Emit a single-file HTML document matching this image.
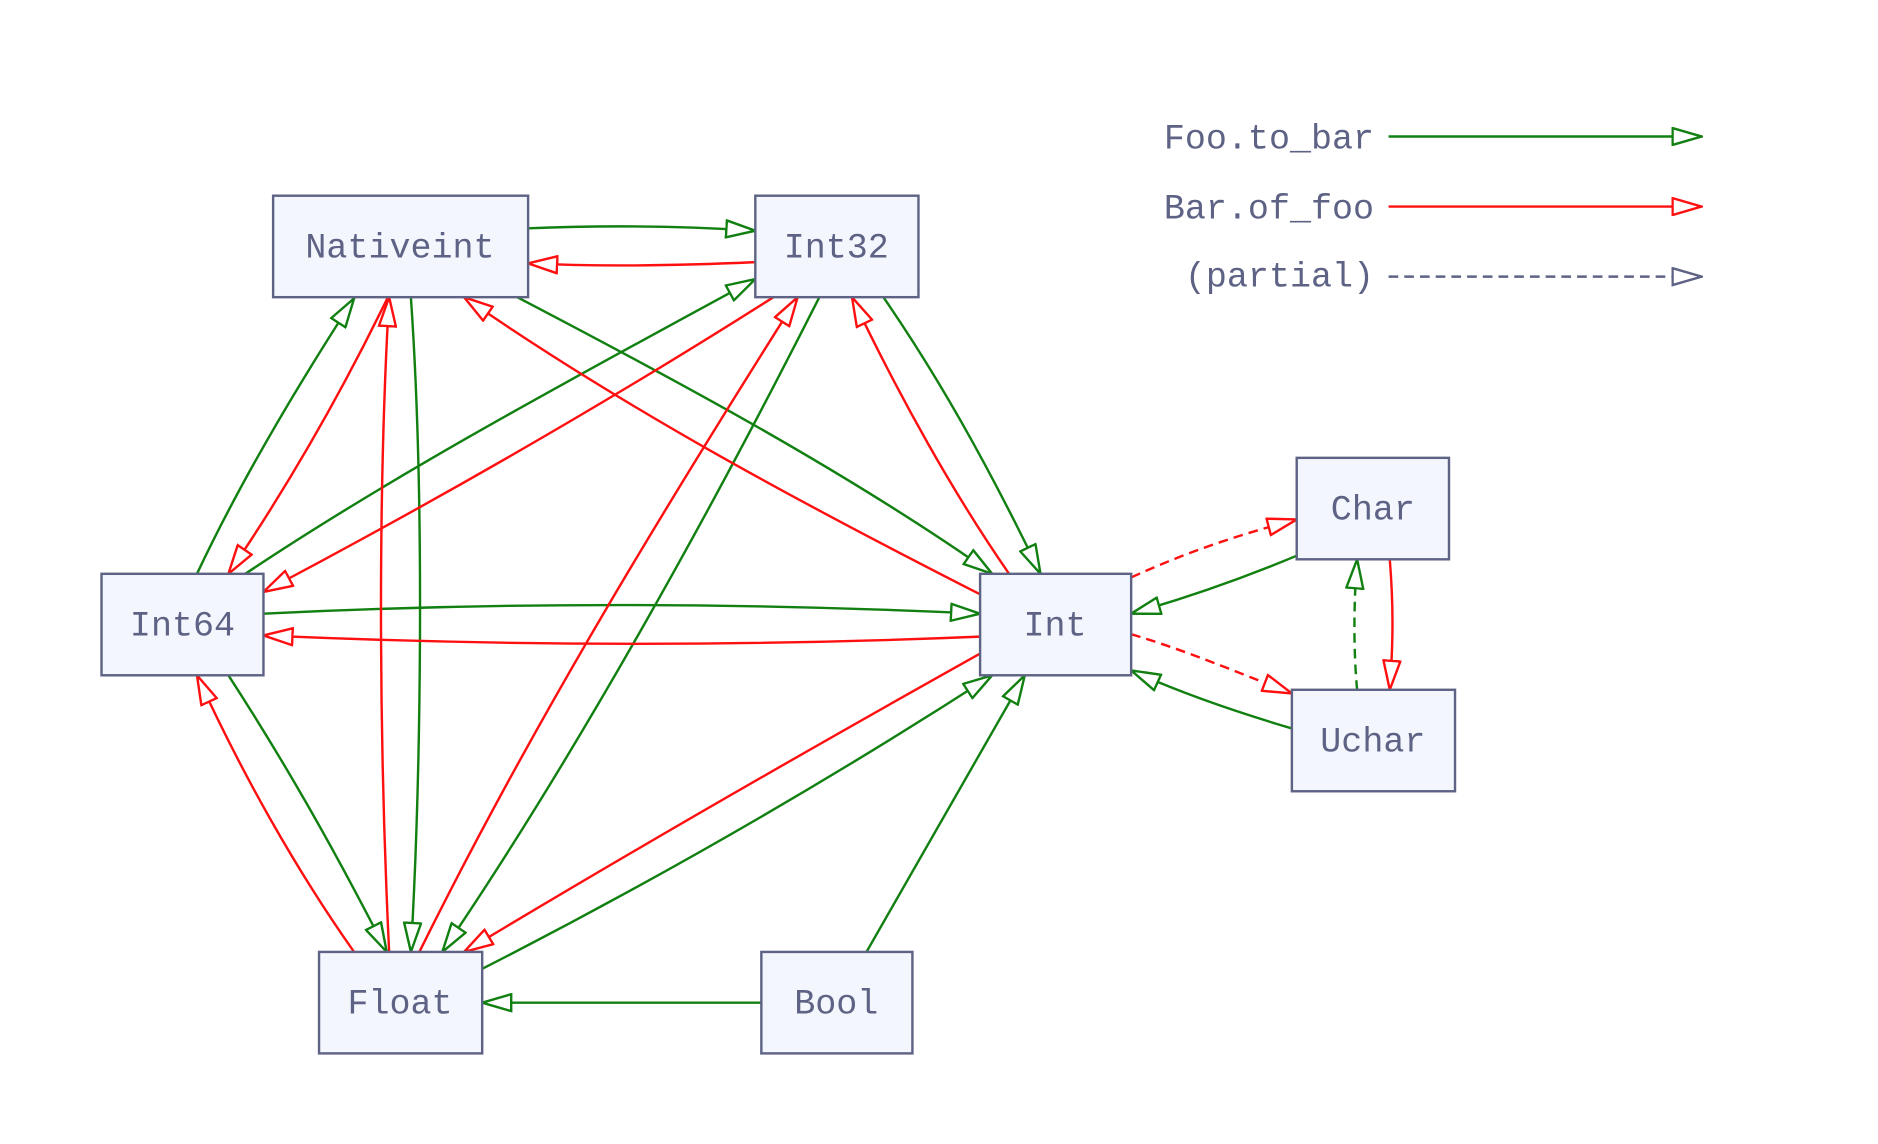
<!DOCTYPE html>
<html><head><meta charset="utf-8"><style>
html,body{margin:0;padding:0;background:#fff;}
svg{display:block;}
text{font-family:"Liberation Mono","DejaVu Sans Mono",monospace;font-size:29px;fill:#5e6385;}
</style></head><body>
<svg width="1878" height="1144" viewBox="0 0 1554 947" preserveAspectRatio="none" xmlns="http://www.w3.org/2000/svg">
<defs>
<marker id="g" markerUnits="userSpaceOnUse" viewBox="0 0 26 16" refX="25" refY="8" markerWidth="26" markerHeight="16" orient="auto"><path d="M1,1 L25,8 L1,15 z" fill="#fff" stroke="#118011" stroke-width="2"/></marker>
<marker id="r" markerUnits="userSpaceOnUse" viewBox="0 0 26 16" refX="25" refY="8" markerWidth="26" markerHeight="16" orient="auto"><path d="M1,1 L25,8 L1,15 z" fill="#fff" stroke="#ff1010" stroke-width="2"/></marker>
<marker id="k" markerUnits="userSpaceOnUse" viewBox="0 0 26 16" refX="25" refY="8" markerWidth="26" markerHeight="16" orient="auto"><path d="M1,1 L25,8 L1,15 z" fill="#fff" stroke="#5e6385" stroke-width="2"/></marker>
</defs>
<g fill="none" stroke-width="2">
<g stroke="#118011" marker-end="url(#g)">
<path d="M437,189 Q531,185 625,191"/>
<path d="M163,475 Q210,375 293,247"/>
<path d="M340,246 C352,420 348,650 340,788"/>
<path d="M428,246 C560,315 700,390 821,475"/>
<path d="M203,475 C330,390 480,310 625,231"/>
<path d="M678,246 C590,420 480,620 366,788"/>
<path d="M731,246 C775,310 815,380 861,475"/>
<path d="M218,508 C420,498 620,499 811,508"/>
<path d="M189,559 C235,630 275,700 320,788"/>
<path d="M399,802 C540,730 680,650 821,559"/>
<path d="M717,788 L848,559"/>
<path d="M630,830 L399,830"/>
<path d="M1073,460 C1030,478 985,494 936,508"/>
<path d="M1069,603 C1025,590 980,575 936,555"/>
<path d="M1123,571 C1120,540 1120,500 1123,463" stroke-dasharray="8,5"/>
<path d="M1149,113 L1408,113"/>
</g>
<g stroke="#ff1010" marker-end="url(#r)">
<path d="M625,217 C560,220 500,221 437,218"/>
<path d="M321,246 C285,320 240,400 189,475"/>
<path d="M322,788 C313,600 313,400 322,246"/>
<path d="M811,492 C660,415 520,340 384,246"/>
<path d="M640,246 C500,335 360,415 218,490"/>
<path d="M347,788 C440,600 550,420 660,246"/>
<path d="M835,475 C790,410 745,330 705,246"/>
<path d="M811,527 C620,535 420,535 218,526"/>
<path d="M293,788 C245,720 200,640 163,559"/>
<path d="M811,541 C670,620 530,700 384,788"/>
<path d="M1150,463 C1153,500 1153,530 1150,571"/>
<path d="M936,478 C980,458 1020,444 1073,430" stroke-dasharray="8,5"/>
<path d="M936,525 C980,538 1020,555 1069,574" stroke-dasharray="8,5"/>
<path d="M1149,171 L1408,171"/>
</g>
<path d="M1149,229 L1408,229" stroke="#5e6385" stroke-dasharray="8,5" marker-end="url(#k)"/>
</g>
<g fill="#f3f6fd" stroke="#5e6385" stroke-width="2">
<rect x="226" y="162" width="211" height="84"/>
<rect x="625" y="162" width="135" height="84"/>
<rect x="84" y="475" width="134" height="84"/>
<rect x="811" y="475" width="125" height="84"/>
<rect x="1073" y="379" width="126" height="84"/>
<rect x="1069" y="571" width="135" height="84"/>
<rect x="264" y="788" width="135" height="84"/>
<rect x="630" y="788" width="125" height="84"/>
</g>
<g text-anchor="middle">
<text x="331" y="213">Nativeint</text>
<text x="692" y="213">Int32</text>
<text x="151" y="526">Int64</text>
<text x="873" y="526">Int</text>
<text x="1136" y="430">Char</text>
<text x="1136" y="622">Uchar</text>
<text x="331" y="839">Float</text>
<text x="692" y="839">Bool</text>
</g>
<g text-anchor="end">
<text x="1137" y="123">Foo.to_bar</text>
<text x="1137" y="181">Bar.of_foo</text>
<text x="1137" y="237">(partial)</text>
</g>
</svg>
</body></html>
